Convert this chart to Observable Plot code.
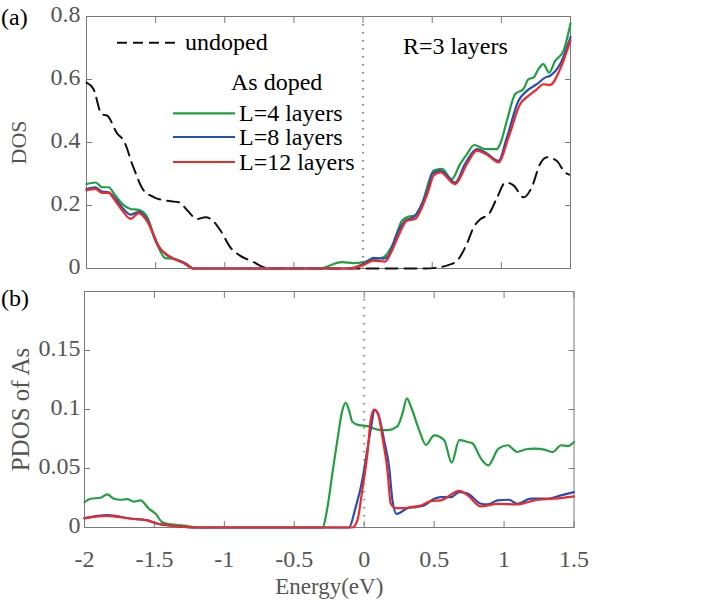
<!DOCTYPE html>
<html>
<head>
<meta charset="utf-8">
<script src="https://cdn.jsdelivr.net/npm/d3@7"></script>
<script src="https://cdn.jsdelivr.net/npm/@observablehq/plot@0.6"></script>
<style>
  body { margin: 0; background: #fff; }
  #chart { position: relative; width: 705px; height: 600px; }
  #chart svg { position: absolute; left: 0; }
</style>
</head>
<body>
<div id="chart"></div>
<script>
// ---- Panel (a): total DOS, [energy (eV), DOS] ----
const dosUndoped = [
  [-2, 0.59], [-1.95, 0.57], [-1.89, 0.49], [-1.85, 0.485], [-1.78, 0.43], [-1.73, 0.405],
  [-1.66, 0.32], [-1.59, 0.25], [-1.51, 0.226], [-1.42, 0.215], [-1.33, 0.21], [-1.27, 0.184],
  [-1.2, 0.157], [-1.14, 0.163], [-1.1, 0.157], [-1.03, 0.12], [-0.96, 0.067], [-0.89, 0.041],
  [-0.79, 0.02], [-0.72, 0.004], [-0.65, 0], [0.45, 0], [0.52, 0.002], [0.61, 0.01],
  [0.68, 0.025], [0.75, 0.078], [0.8, 0.131], [0.85, 0.157], [0.91, 0.173], [0.97, 0.226],
  [1.03, 0.273], [1.09, 0.263], [1.16, 0.226], [1.22, 0.258], [1.28, 0.332], [1.33, 0.353],
  [1.4, 0.342], [1.46, 0.305], [1.49, 0.298]
];
const dosL4 = [
  [-2, 0.268], [-1.935, 0.273], [-1.887, 0.258], [-1.84, 0.258], [-1.8, 0.237], [-1.742, 0.205],
  [-1.682, 0.189], [-1.622, 0.186], [-1.561, 0.163], [-1.5, 0.089], [-1.43, 0.033], [-1.37, 0.031],
  [-1.3, 0.02], [-1.225, 0], [-0.3, 0], [-0.285, 0.002], [-0.153, 0.02], [-0.068, 0.017],
  [0.004, 0.02], [0.052, 0.027], [0.148, 0.036], [0.221, 0.083], [0.281, 0.152], [0.33, 0.165],
  [0.377, 0.168], [0.426, 0.205], [0.486, 0.289], [0.51, 0.311], [0.57, 0.316], [0.642, 0.284],
  [0.702, 0.332], [0.751, 0.363], [0.803, 0.392], [0.883, 0.379], [0.967, 0.379], [0.991, 0.395],
  [1.04, 0.469], [1.1, 0.554], [1.16, 0.57], [1.196, 0.601], [1.232, 0.606], [1.268, 0.633],
  [1.304, 0.649], [1.345, 0.622], [1.389, 0.659], [1.449, 0.691], [1.5, 0.778]
];
const dosL8 = [
  [-2, 0.252], [-1.935, 0.258], [-1.887, 0.244], [-1.84, 0.242], [-1.8, 0.226], [-1.742, 0.194],
  [-1.682, 0.171], [-1.622, 0.18], [-1.561, 0.154], [-1.49, 0.078], [-1.43, 0.046], [-1.37, 0.031],
  [-1.28, 0.015], [-1.225, 0], [-0.105, 0], [0.004, 0.015], [0.076, 0.034], [0.148, 0.031],
  [0.184, 0.041], [0.245, 0.11], [0.305, 0.152], [0.365, 0.163], [0.413, 0.194], [0.473, 0.258],
  [0.498, 0.3], [0.558, 0.311], [0.666, 0.273], [0.738, 0.332], [0.823, 0.379], [0.895, 0.365],
  [0.979, 0.342], [1.04, 0.416], [1.123, 0.532], [1.184, 0.564], [1.256, 0.585], [1.316, 0.606],
  [1.353, 0.612], [1.425, 0.649], [1.5, 0.735]
];
const dosL12 = [
  [-2, 0.248], [-1.935, 0.253], [-1.887, 0.24], [-1.84, 0.24], [-1.8, 0.22], [-1.742, 0.185],
  [-1.682, 0.158], [-1.622, 0.176], [-1.561, 0.15], [-1.465, 0.062], [-1.43, 0.048], [-1.37, 0.031],
  [-1.3, 0.018], [-1.225, 0], [-0.09, 0], [0.004, 0.012], [0.076, 0.025], [0.16, 0.022],
  [0.197, 0.046], [0.257, 0.105], [0.317, 0.152], [0.377, 0.157], [0.426, 0.194], [0.473, 0.247],
  [0.51, 0.295], [0.558, 0.305], [0.666, 0.268], [0.751, 0.332], [0.823, 0.374], [0.907, 0.358],
  [0.979, 0.337], [1.052, 0.416], [1.136, 0.522], [1.196, 0.548], [1.256, 0.569], [1.304, 0.585],
  [1.353, 0.583], [1.425, 0.633], [1.5, 0.725]
];

// ---- Panel (b): projected DOS of As, [energy (eV), PDOS] ----
const pdosL4 = [
  [-2, 0.0215], [-1.957, 0.0244], [-1.885, 0.0252], [-1.838, 0.028], [-1.79, 0.0244], [-1.742, 0.0235],
  [-1.695, 0.024], [-1.647, 0.022], [-1.6, 0.023], [-1.54, 0.016], [-1.492, 0.0117], [-1.444, 0.0045],
  [-1.385, 0.0026], [-1.29, 0.0017], [-1.2, 0], [-0.299, 0], [-0.263, 0.017], [-0.228, 0.0456],
  [-0.192, 0.074], [-0.156, 0.0995], [-0.132, 0.1057], [-0.109, 0.0995], [-0.085, 0.0896],
  [-0.037, 0.0867], [0.023, 0.0859], [0.095, 0.083], [0.166, 0.0825], [0.238, 0.0859],
  [0.274, 0.0967], [0.305, 0.1094], [0.334, 0.1023], [0.393, 0.0825], [0.441, 0.07], [0.5, 0.078],
  [0.572, 0.074], [0.625, 0.055], [0.68, 0.074], [0.74, 0.0725], [0.775, 0.0712], [0.835, 0.0584],
  [0.887, 0.0527], [0.96, 0.0669], [1.026, 0.0697], [1.093, 0.064], [1.157, 0.0663], [1.217, 0.0669],
  [1.288, 0.066], [1.348, 0.064], [1.408, 0.0697], [1.455, 0.069], [1.5, 0.0725]
];
const pdosL8 = [
  [-2, 0.008], [-1.838, 0.0105], [-1.67, 0.0076], [-1.55, 0.006], [-1.47, 0.003], [-1.385, 0.0017],
  [-1.265, 0.0003], [-1.2, 0], [-0.109, 0], [-0.061, 0.0173], [-0.014, 0.04], [0.01, 0.057],
  [0.046, 0.0825], [0.075, 0.0995], [0.106, 0.0938], [0.142, 0.074], [0.178, 0.0513], [0.202, 0.023],
  [0.231, 0.0116], [0.262, 0.013], [0.309, 0.0164], [0.369, 0.0173], [0.428, 0.0187], [0.5, 0.0244],
  [0.547, 0.0258], [0.62, 0.0258], [0.68, 0.03], [0.74, 0.0287], [0.835, 0.0201], [0.882, 0.0196],
  [0.953, 0.023], [1.035, 0.0235], [1.096, 0.0201], [1.191, 0.0244], [1.31, 0.0244], [1.406, 0.0272],
  [1.5, 0.03]
];
const pdosL12 = [
  [-2, 0.0078], [-1.838, 0.0098], [-1.67, 0.0074], [-1.55, 0.006], [-1.47, 0.003], [-1.385, 0.0017],
  [-1.265, 0.0003], [-1.2, 0], [-0.085, 0], [-0.049, 0.006], [-0.014, 0.0315], [0.023, 0.0627],
  [0.046, 0.091], [0.07, 0.1], [0.099, 0.0967], [0.13, 0.0768], [0.166, 0.0485], [0.19, 0.0201],
  [0.226, 0.0164], [0.285, 0.0164], [0.333, 0.0173], [0.405, 0.0187], [0.477, 0.0224], [0.547, 0.023],
  [0.68, 0.031], [0.74, 0.0272], [0.835, 0.0179], [0.953, 0.0201], [1.096, 0.0196], [1.216, 0.023],
  [1.36, 0.0244], [1.5, 0.0264]
];

// ---- Ticks and labels ----
const xTicks = [-2, -1.5, -1, -0.5, 0, 0.5, 1, 1.5];
const xTickLabels = ["-2", "-1.5", "-1", "-0.5", "0", "0.5", "1", "1.5"];
const yTicksA = [0, 0.2, 0.4, 0.6, 0.8];
const yTickLabelsA = ["0", "0.2", "0.4", "0.6", "0.8"];
const yTicksB = [0, 0.05, 0.1, 0.15];
const yTickLabelsB = ["0", "0.05", "0.1", "0.15"];

const seriesNames = ["L=4 layers", "L=8 layers", "L=12 layers"];
const seriesColors = ["#22a040", "#2050b8", "#f02828"];
const undopedName = "undoped";
const dopedTitle = "As doped";
const panelNote = "R=3 layers";

const serif = "Liberation Serif";
const axisGray = "#7a7a7a";
const textGray = "#555555";

const fmt = (ticks, labels) => d => labels[ticks.indexOf(d)];

function frameAndTicks(yTicks) {
  return [
    Plot.frame({stroke: axisGray, strokeWidth: 1}),
    Plot.axisY(yTicks, {anchor: "left", tickSize: -6, text: null, stroke: axisGray}),
    Plot.axisY(yTicks, {anchor: "right", tickSize: -6, text: null, stroke: axisGray}),
    Plot.axisX(xTicks, {anchor: "bottom", tickSize: -6, text: null, stroke: axisGray}),
    Plot.axisX(xTicks, {anchor: "top", tickSize: -6, text: null, stroke: axisGray})
  ];
}

function dopedLines(sets) {
  return sets.map((data, i) => Plot.line(data, {
    x: d => d[0], y: d => d[1], stroke: seriesColors[i], strokeWidth: 2.2, curve: "monotone-x"
  }));
}

const fermi = Plot.ruleX([0], {stroke: "#8a8a8a", strokeWidth: 2, strokeDasharray: "1.5,6.5"});

const panelA = Plot.plot({
  width: 705, height: 280,
  marginTop: 16, marginBottom: 12, marginLeft: 86, marginRight: 135,
  style: {fontFamily: serif, fontSize: "23px", background: "transparent", overflow: "visible"},
  x: {domain: [-2, 1.5]},
  y: {domain: [0, 0.8]},
  marks: [
    ...frameAndTicks(yTicksA),
    fermi,
    Plot.line(dosUndoped, {x: d => d[0], y: d => d[1], stroke: "#111", strokeWidth: 2,
      strokeDasharray: "12,7", curve: "monotone-x"}),
    ...dopedLines([dosL4, dosL8, dosL12]),
    Plot.axisY(yTicksA, {anchor: "left", tickSize: 0, tickPadding: 6, dy: -2,
      tickFormat: fmt(yTicksA, yTickLabelsA), fill: textGray, fontSize: 24}),
    Plot.text(["DOS"], {text: d => d, frameAnchor: "left", textAnchor: "middle", lineAnchor: "middle",
      rotate: -90, dx: -68, fontSize: 22, fill: textGray})
  ]
});
panelA.style.top = "0px";

const panelB = Plot.plot({
  width: 705, height: 320,
  marginTop: 11, marginBottom: 73, marginLeft: 84, marginRight: 131.5,
  style: {fontFamily: serif, fontSize: "23px", background: "transparent", overflow: "visible"},
  x: {domain: [-2, 1.5]},
  y: {domain: [0, 0.2]},
  marks: [
    ...frameAndTicks(yTicksB),
    fermi,
    ...dopedLines([pdosL4, pdosL8, pdosL12]),
    Plot.axisY(yTicksB, {anchor: "left", tickSize: 0, tickPadding: 4, dy: -2,
      tickFormat: fmt(yTicksB, yTickLabelsB), fill: textGray, fontSize: 24}),
    Plot.axisX(xTicks, {anchor: "bottom", tickSize: 0, tickPadding: 22,
      tickFormat: fmt(xTicks, xTickLabels), fill: textGray, fontSize: 24}),
    Plot.text(["PDOS of As"], {text: d => d, frameAnchor: "left", textAnchor: "middle", lineAnchor: "middle",
      rotate: -90, dx: -64, fontSize: 25, fill: textGray}),
    Plot.text(["Energy(eV)"], {text: d => d, frameAnchor: "bottom", textAnchor: "middle", lineAnchor: "middle",
      dy: 59, fontSize: 23, fill: textGray})
  ]
});
panelB.style.top = "280px";

// Every label in both panels uses the serif face
for (const svg of [panelA, panelB]) {
  d3.select(svg).selectAll("text")
    .style("font-family", "'Liberation Serif', 'Times New Roman', serif");
}

const chart = document.getElementById("chart");
chart.appendChild(panelA);
chart.appendChild(panelB);

// Legend, panel tags and annotation drawn on an overlay
const overlay = d3.create("svg")
  .attr("width", 705).attr("height", 600)
  .style("top", "0px")
  .style("pointer-events", "none")
  .style("font-family", "'Liberation Serif', 'Times New Roman', serif")
  .style("font-size", "24px");

overlay.append("line")
  .attr("x1", 117).attr("x2", 177).attr("y1", 42.7).attr("y2", 42.7)
  .attr("stroke", "#111").attr("stroke-width", 2).attr("stroke-dasharray", "10,6");
overlay.append("text").attr("x", 185).attr("y", 50).text(undopedName);
overlay.append("text").attr("x", 231).attr("y", 90).text(dopedTitle);

const legendRows = [113.3, 137, 162];
seriesNames.forEach((name, i) => {
  overlay.append("line")
    .attr("x1", 173).attr("x2", 235).attr("y1", legendRows[i]).attr("y2", legendRows[i])
    .attr("stroke", seriesColors[i]).attr("stroke-width", 2.2);
  overlay.append("text").attr("x", 239).attr("y", legendRows[i] + 8).text(name);
});

overlay.append("text").attr("x", 403).attr("y", 54).text(panelNote);
overlay.append("text").attr("x", 1).attr("y", 25).text("(a)");
overlay.append("text").attr("x", 1).attr("y", 306).text("(b)");

chart.appendChild(overlay.node());
</script>
</body>
</html>
